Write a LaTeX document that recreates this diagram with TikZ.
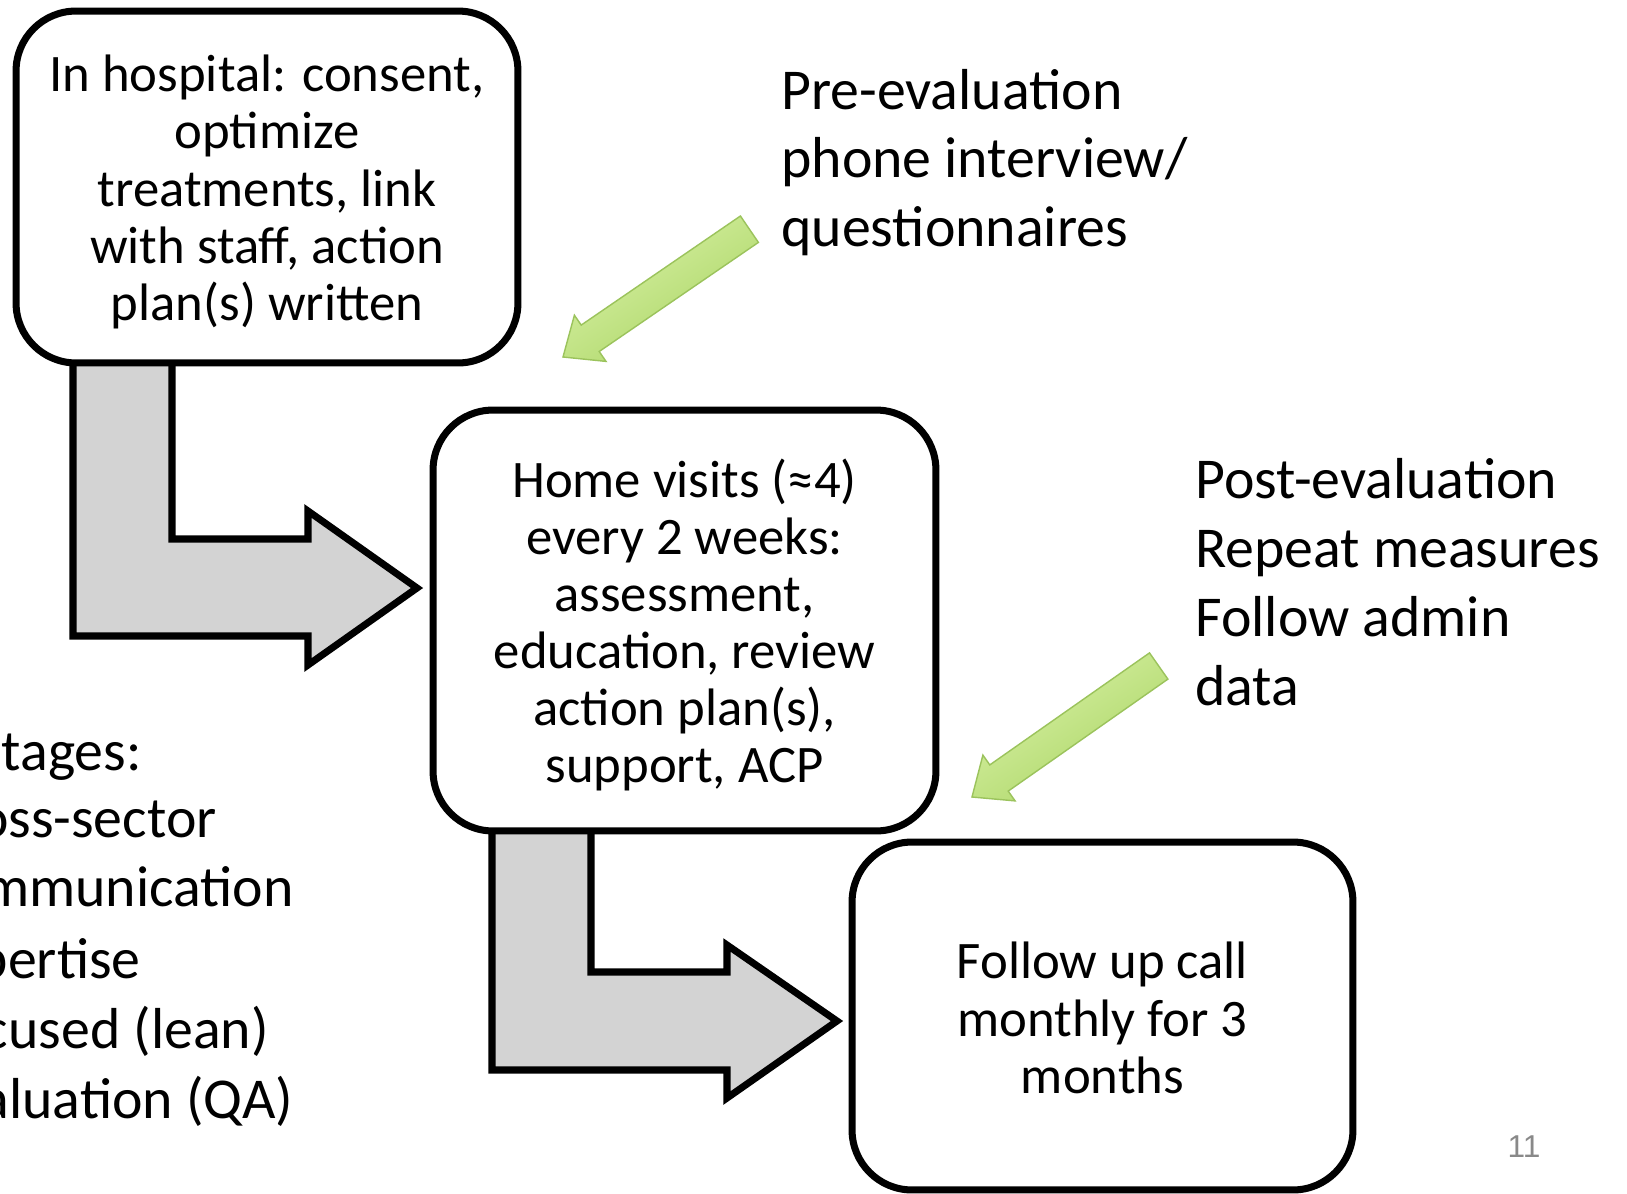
\documentclass[tikz,border=0pt]{standalone}
\usepackage{fontspec}
\setmainfont{Carlito}
\newfontfamily\pagenumfont{Liberation Sans}
\newcommand\bxfont{\fontsize{30pt}{32.5pt}\selectfont}
\newcommand\sdfont{\fontsize{32.9pt}{39.4pt}\selectfont}
\newcommand\pnfont{\pagenumfont\fontsize{18pt}{20pt}\selectfont}
\newcommand\firstline[1]{\rule{0pt}{#1}}
\definecolor{arrowgray}{RGB}{211,211,211}
\definecolor{greenlight}{RGB}{218,242,168}
\definecolor{greendark}{RGB}{170,213,100}
\definecolor{greenedge}{RGB}{155,195,92}
\definecolor{pagegray}{RGB}{137,137,137}
\begin{document}
\begin{tikzpicture}[x=0.02cm,y=-0.02cm,
  box/.style={draw=black, line width=4pt, rounded corners=1.2cm, fill=white,
    align=center, inner sep=0pt, font=\bxfont},
  bent/.style={draw=black, line width=4pt, fill=arrowgray, line join=miter},
  greenarrow/.style={draw=greenedge, line width=0.8pt, top color=greenlight,
    bottom color=greendark, shading angle=34},
  sidetext/.style={anchor=base west, inner sep=0pt, font=\sdfont},
  lefttext/.style={anchor=base east, inner sep=0pt, font=\sdfont}]
\useasboundingbox (0,0) rectangle (1627,1194);
\fill[white] (0,0) rectangle (1627,1194);
\clip (0,0) rectangle (1627,1194);

% bent block arrows (behind the boxes)
\draw[bent] (73,330) -- (172,330) -- (172,539) -- (308,539) -- (308,511)
  -- (417,588) -- (308,665) -- (308,636) -- (73,636) -- cycle;
\draw[bent] (492,810) -- (591,810) -- (591,972) -- (727,972) -- (727,945)
  -- (837,1021) -- (727,1098) -- (727,1070) -- (492,1070) -- cycle;

% boxes
\node[box, minimum width=10.04cm, minimum height=7.04cm] (hosp) at (267,187)
  {\firstline{26.5pt}In hospital: consent,\\ optimize\\ treatments, link\\ with staff, action\\ plan(s) written};
\node[box, minimum width=10.06cm, minimum height=8.42cm] (home) at (684.5,620.5)
  {\firstline{27pt}Home visits (≈4)\\ every 2 weeks:\\ assessment,\\ education, review\\ action plan(s),\\ support, ACP};
\node[box, minimum width=10.02cm, minimum height=6.96cm] (follow) at (1102.5,1016)
  {\firstline{23pt}Follow up call\\ monthly for 3\\ months};

% green arrows
\draw[greenarrow] (563,357) -- (606.0,361.4) -- (599.2,351.5) -- (758.4,242.4)
  -- (740.4,216.0) -- (581.2,325.1) -- (574.4,315.2) -- cycle;
\draw[greenarrow] (972,797) -- (1015.1,800.9) -- (1008.2,791.1) -- (1167.9,679.1)
  -- (1149.5,652.9) -- (989.8,764.9) -- (982.9,755.1) -- cycle;

% right texts
\node[sidetext] (pre1) at (781,109) {Pre-evaluation};
\node[sidetext] (pre2) at (781,177) {phone interview/};
\node[sidetext] (pre3) at (781,246) {questionnaires};
\node[sidetext] (post1) at (1195,498) {Post-evaluation};
\node[sidetext] (post2) at (1195,567) {Repeat measures};
\node[sidetext] (post3) at (1195,636) {Follow admin};
\node[sidetext] (post4) at (1195,705) {data};

% left texts (cut off by the page edge, as in the reference)
\node[lefttext] (adv1) at (142,770) {tages:};
\node[lefttext] (adv2) at (217,837) {oss-sector};
\node[lefttext] (adv3) at (294,906) {mmunication};
\node[lefttext] (adv4) at (141,978) {pertise};
\node[lefttext] (adv5) at (269,1048) {cused (lean)};
\node[lefttext] (adv6) at (294,1118) {aluation (QA)};

% page number
\node[inner sep=0pt, font=\pnfont, text=pagegray] (pagenum) at (1524,1147) {11};
\end{tikzpicture}
\end{document}
